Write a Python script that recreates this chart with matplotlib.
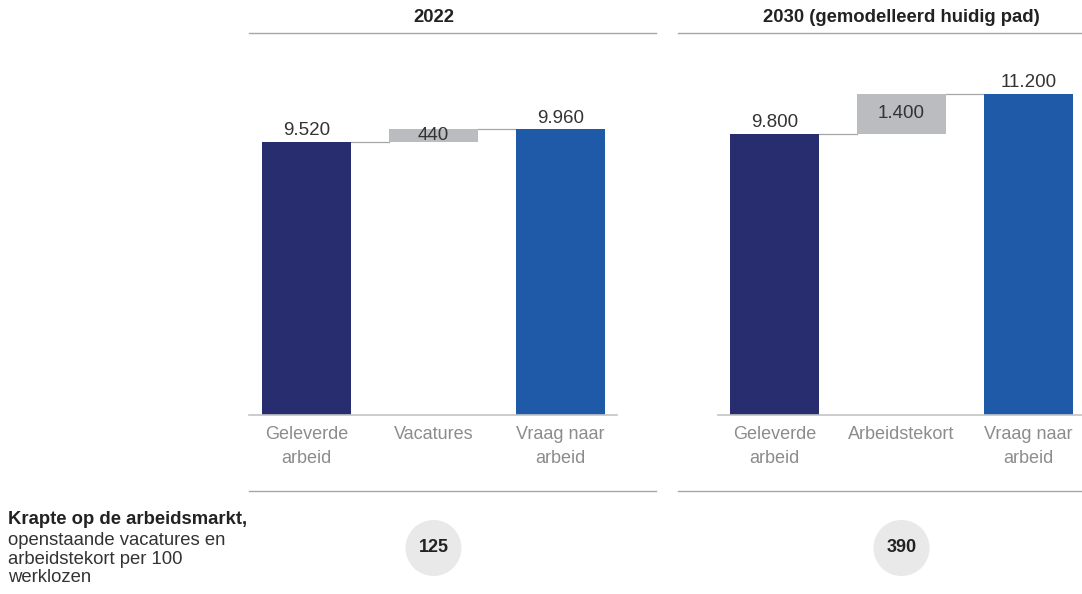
import matplotlib
matplotlib.use("Agg")
import matplotlib.pyplot as plt
from matplotlib.transforms import blended_transform_factory

plt.rcParams['font.family'] = ['Liberation Sans', 'DejaVu Sans']

# data
panel_titles = ["2022", "2030 (gemodelleerd huidig pad)"]
categories_2022 = ["Geleverde\narbeid", "Vacatures", "Vraag naar\narbeid"]
categories_2030 = ["Geleverde\narbeid", "Arbeidstekort", "Vraag naar\narbeid"]
supply = [9520, 9800]
gap = [440, 1400]
demand = [9960, 11200]
tightness = [125, 390]

DARK = "#272d6f"
BLUE = "#1f5aa9"
GREY = "#bbbcbf"
LINE = "#a6a6a6"
TICK = "#8c8c8c"
TXT = "#333333"

W, H = 1082, 594
fig = plt.figure(figsize=(W / 100, H / 100), dpi=100)

PX_PER_UNIT = 0.02868  # pixels per value unit
BAR_STEP = 127.0
BAR_W = 89 / BAR_STEP
y_base, y_top = 415, 33
ymax = (y_base - y_top) / PX_PER_UNIT


def fmt(v):
    return f"{v:,}".replace(",", ".")


panels = [
    # left px, right px, first bar centre px, baseline start px
    dict(x0=249, x1=656, c0=306.5, b0=249, b1=617, cats=categories_2022),
    dict(x0=678, x1=1082, c0=774.5, b0=718, b1=1082, cats=categories_2030),
]

for i, p in enumerate(panels):
    ax = fig.add_axes([p["x0"] / W, (H - y_base) / H,
                       (p["x1"] - p["x0"]) / W, (y_base - y_top) / H])
    lo = (p["x0"] - p["c0"]) / BAR_STEP
    hi = (p["x1"] - p["c0"]) / BAR_STEP
    ax.set_xlim(lo, hi)
    ax.set_ylim(0, ymax)

    s, g, d = supply[i], gap[i], demand[i]
    ax.bar(0, s, width=BAR_W, color=DARK, zorder=3)
    ax.bar(1, g, bottom=s, width=BAR_W, color=GREY, zorder=3)
    ax.bar(2, d, width=BAR_W, color=BLUE, zorder=3)

    # connectors
    ax.plot([BAR_W / 2, 1 - BAR_W / 2], [s, s], color=LINE, lw=0.9, zorder=2)
    ax.plot([1 + BAR_W / 2, 2 - BAR_W / 2], [s + g, s + g], color=LINE, lw=0.9, zorder=2)

    # baseline
    ax.plot([(p["b0"] - p["c0"]) / BAR_STEP, (p["b1"] - p["c0"]) / BAR_STEP], [0, 0],
            color="#c4c4c4", lw=1.2, clip_on=False, zorder=4)

    # value labels
    lab_kw = dict(ha="center", fontsize=13.5, color=TXT, zorder=5)
    ax.annotate(fmt(s), (0, s), xytext=(0, 2), textcoords="offset points", va="bottom", **lab_kw)
    ax.text(1, s + g / 2, fmt(g), va="center", **lab_kw)
    ax.annotate(fmt(d), (2, d), xytext=(0, 2), textcoords="offset points", va="bottom", **lab_kw)

    ax.set_xticks([0, 1, 2])
    ax.set_xticklabels(p["cats"], fontsize=13, color=TICK, linespacing=1.55)
    ax.tick_params(axis="x", length=0, pad=8)
    ax.set_yticks([])
    for side in ["left", "right", "bottom"]:
        ax.spines[side].set_visible(False)
    ax.spines["top"].set_color(LINE)
    ax.spines["top"].set_linewidth(1.0)

    tr = blended_transform_factory(ax.transData, fig.transFigure)
    ax.text(1, 1 - 17 / H, panel_titles[i], transform=tr, ha="center", va="center",
            fontsize=13.3, fontweight="bold", color="#222222")
    ax.plot([lo, hi], [1 - 491 / H] * 2, transform=tr, color=LINE, lw=1.0, clip_on=False)
    ax.text(1, 1 - 548 / H, str(tightness[i]), transform=tr, ha="center", va="center",
            fontsize=13, fontweight="bold", color="#222222",
            bbox=dict(boxstyle="circle,pad=0.72", fc="#e9e9e9", ec="none"))

fig.text(8 / W, 1 - 520 / H, "Krapte op de arbeidsmarkt,", ha="left", va="center",
         fontsize=13.3, fontweight="bold", color="#222222")
fig.text(8 / W, 1 - 532 / H, "openstaande vacatures en\narbeidstekort per 100\nwerklozen",
         ha="left", va="top", fontsize=13.3, color="#333333", linespacing=1.12)

fig.savefig("out.png", dpi=100)
